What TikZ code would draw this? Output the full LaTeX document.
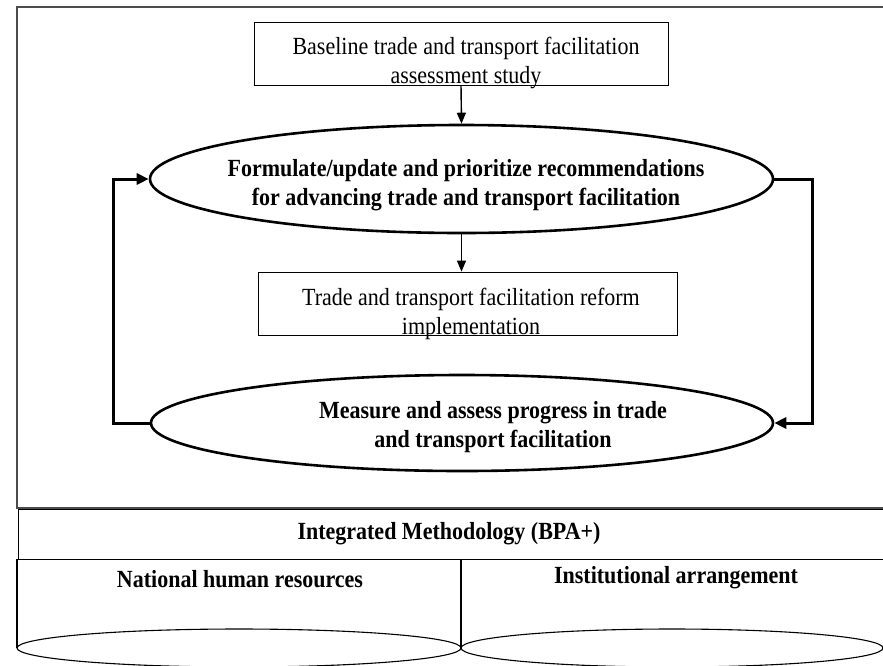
\documentclass[tikz,border=0pt]{standalone}
\usepackage{fontspec}
\usepackage{graphicx}
\setmainfont{Liberation Serif}
\usetikzlibrary{shapes.geometric,arrows.meta}
\newcommand\talltext[1]{\scalebox{1}[1.12]{\begin{tabular}{@{}c@{}}#1\end{tabular}}}
\begin{document}
\begin{tikzpicture}[x=1pt,y=-1pt,
 boxnode/.style={draw,line width=0.8pt,minimum width=414pt,minimum height=63pt,inner sep=0pt},
 ellnode/.style={draw,ellipse,line width=2.6pt,inner sep=0pt},
 txt/.style={align=center,font=\fontsize{22}{26}\selectfont,inner sep=0pt},
 btxt/.style={align=center,font=\fontsize{22}{26}\selectfont\bfseries,inner sep=0pt},
 darr/.style={line width=1.4pt,-{Triangle[length=11pt,width=9pt]}},
 loopline/.style={line width=3pt,line join=miter,-{Triangle[length=12pt,width=11pt]}},
 frame/.style={draw=black!70,line width=1.4pt},
 cyl/.style={draw,line width=1.1pt},
 ]
\useasboundingbox (0,0) rectangle (883,665);
\clip (0,0) rectangle (883,665);
% outer frame
\draw[frame] (895,7) -- (17,7) -- (17,508) -- (895,508);
% main flow
\node[boxnode] (b1) at (461,53.5) {};
\node[txt] (t1) at (466,63) {\talltext{Baseline trade and transport facilitation\\assessment study}};
\node[ellnode,minimum width=623pt,minimum height=108pt] (e1) at (461.5,179) {};
\node[btxt] (t2) at (466,185) {\talltext{Formulate/update and prioritize recommendations\\for advancing trade and transport facilitation}};
\node[boxnode,minimum width=419pt,minimum height=63pt] (b2) at (467.5,303.5) {};
\node[txt] (t3) at (471,314) {\talltext{Trade and transport facilitation reform\\implementation}};
\node[ellnode,minimum width=622pt,minimum height=96pt] (e2) at (462,423) {};
\node[btxt] (t4) at (493,427) {\talltext{Measure and assess progress in trade\\and transport facilitation}};
\draw[darr] (b1.south) -- (e1.north);
\draw[darr] (e1.south) -- (e1.south |- b2.north);
\coordinate (lx) at (113,300);
\coordinate (rx) at (812,300);
\draw[loopline] (e2.west) -| (lx) |- (e1.west);
\draw[loopline] (e1.east) -| (rx) |- (e2.east);
% integrated methodology
\node[draw,line width=1.1pt,minimum width=880pt,minimum height=50pt,anchor=north west,inner sep=0pt] (im) at (18,509) {};
\node[btxt] (t5) at (449,534) {\talltext{Integrated Methodology (BPA+)}};
% cylinders
\draw[cyl] (17,648) -- (17,559);
\draw[cyl] (461,648) -- (461,559);
\draw[cyl] (239,648) ellipse [x radius=222, y radius=19];
\draw[cyl] (672,648) ellipse [x radius=211, y radius=19];
\node[btxt] (t6) at (240,582) {\talltext{National human resources}};
\node[btxt] (t7) at (676,578) {\talltext{Institutional arrangement}};
\end{tikzpicture}
\end{document}
